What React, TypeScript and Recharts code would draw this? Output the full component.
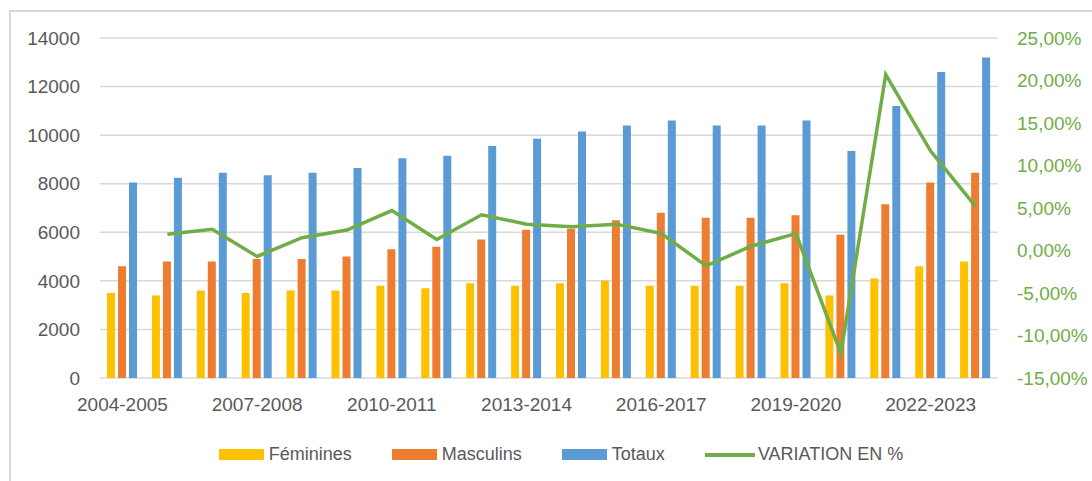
import React from "react"
import {
  Bar,
  CartesianGrid,
  ComposedChart,
  Legend,
  Line,
  XAxis,
  YAxis,
} from "recharts"

const seasons = [
  "2004-2005", "2005-2006", "2006-2007", "2007-2008", "2008-2009",
  "2009-2010", "2010-2011", "2011-2012", "2012-2013", "2013-2014",
  "2014-2015", "2015-2016", "2016-2017", "2017-2018", "2018-2019",
  "2019-2020", "2020-2021", "2021-2022", "2022-2023", "2023-2024",
]

const feminines = [
  3500, 3400, 3600, 3500, 3600, 3600, 3800, 3700, 3900, 3800,
  3900, 4000, 3800, 3800, 3800, 3900, 3400, 4100, 4600, 4800,
]

const masculins = [
  4600, 4800, 4800, 4900, 4900, 5000, 5300, 5400, 5700, 6100,
  6150, 6500, 6800, 6600, 6600, 6700, 5900, 7150, 8050, 8450,
]

const totaux = [
  8050, 8250, 8450, 8350, 8450, 8650, 9050, 9150, 9550, 9850,
  10150, 10400, 10600, 10400, 10400, 10600, 9350, 11200, 12600, 13200,
]

const variation: (number | null)[] = [
  null, 1.9, 2.5, -0.7, 1.5, 2.4, 4.7, 1.3, 4.2, 3.1,
  2.8, 3.1, 2.0, -1.8, 0.5, 2.0, -12.1, 20.7, 11.7, 5.2,
]

const leftTicks = [0, 2000, 4000, 6000, 8000, 10000, 12000, 14000]
const rightTicks = [-15, -10, -5, 0, 5, 10, 15, 20, 25]

const data = seasons.map((s, i) => ({
  season: s,
  feminines: feminines[i],
  masculins: masculins[i],
  totaux: totaux[i],
  variation: variation[i],
}))

const FONT = "'Liberation Sans', Arial, sans-serif"
const GREY = "#595959"
const GREEN = "#70AD47"

const fmtPct = (v: number) => `${v.toFixed(2).replace(".", ",")}%`

function renderLegend(props: any) {
  const { payload } = props
  return (
    <div
      style={{
        display: "flex",
        justifyContent: "center",
        alignItems: "center",
        paddingLeft: 30,
        fontFamily: FONT,
        fontSize: 18,
        color: GREY,
      }}
    >
      {payload.map((entry: any, i: number) => (
        <div
          key={entry.value}
          style={{ display: "flex", alignItems: "center", marginLeft: i === 0 ? 0 : 40 }}
        >
          {entry.type === "line" ? (
            <span style={{ width: 50, height: 4, background: entry.color, marginRight: 3 }} />
          ) : (
            <span style={{ width: 45, height: 11, background: entry.color, marginRight: 5 }} />
          )}
          <span>{entry.value}</span>
        </div>
      ))}
    </div>
  )
}

export default function App() {
  return (
    <div style={{ position: "absolute", left: 0, top: 0, width: 1092, height: 481, overflow: "hidden", background: "#fff" }}>
      <div
        style={{
          position: "absolute",
          left: 9,
          top: 10,
          width: 1200,
          height: 600,
          borderLeft: "2px solid #D9D9D9",
          borderTop: "2px solid #D9D9D9",
        }}
      />
      <div style={{ position: "absolute", left: 0, top: 0 }}>
        <ComposedChart
          width={1092}
          height={481}
          data={data}
          margin={{ top: 38, right: 0, bottom: 63, left: 0 }}
          barGap={3}
        >
          <CartesianGrid yAxisId="left" vertical={false} stroke="#D9D9D9" strokeWidth={1.5} />
          <XAxis
            dataKey="season"
            interval={2}
            height={40}
            axisLine={false}
            tickLine={false}
            tickSize={0}
            tickMargin={20}
            tick={{ fontSize: 19, fill: GREY, fontFamily: FONT }}
          />
          <YAxis
            yAxisId="left"
            width={100}
            domain={[0, 14000]}
            ticks={leftTicks}
            axisLine={false}
            tickLine={false}
            tickSize={0}
            tickMargin={20}
            tick={{ fontSize: 19, fill: GREY, fontFamily: FONT }}
          />
          <YAxis
            yAxisId="right"
            orientation="right"
            width={94}
            domain={[-15, 25]}
            ticks={rightTicks}
            tickFormatter={fmtPct}
            axisLine={false}
            tickLine={false}
            tickSize={0}
            tickMargin={19}
            tick={{ fontSize: 19, fill: GREEN, fontFamily: FONT }}
          />
          <Legend
            layout="horizontal"
            verticalAlign="middle"
            align="center"
            content={renderLegend}
            wrapperStyle={{ top: 444, left: 0, width: 1092 }}
          />
          <Bar yAxisId="left" dataKey="feminines" name="Féminines" fill="#FFC000" barSize={8} isAnimationActive={false} />
          <Bar yAxisId="left" dataKey="masculins" name="Masculins" fill="#ED7D31" barSize={8} isAnimationActive={false} />
          <Bar yAxisId="left" dataKey="totaux" name="Totaux" fill="#5B9BD5" barSize={8} isAnimationActive={false} />
          <Line
            yAxisId="right"
            type="linear"
            dataKey="variation"
            name="VARIATION EN %"
            stroke={GREEN}
            strokeWidth={3.5}
            dot={false}
            legendType="line"
            isAnimationActive={false}
          />
        </ComposedChart>
      </div>
    </div>
  )
}
